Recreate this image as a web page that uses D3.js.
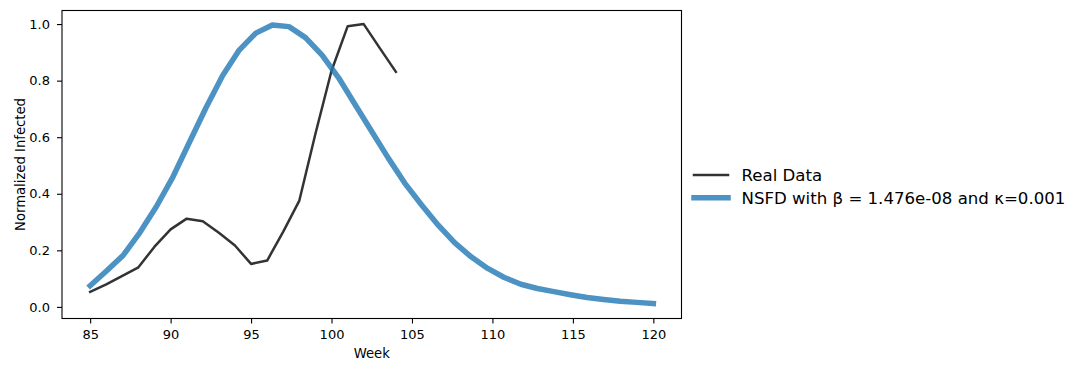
<!DOCTYPE html>
<html><head><meta charset="utf-8">
<script src="https://cdn.jsdelivr.net/npm/d3@7"></script>
<style>
html,body{margin:0;padding:0;background:#fff;}
svg{display:block;font-family:"DejaVu Sans",sans-serif;}
</style></head>
<body><svg id="c" width="1082" height="371"></svg>
<script>
// Real data (weekly)
const realWeeks = [85,86,87,88,89,90,91,92,93,94,95,96,97,98,99,100,101,102,103,104];
const realValues = [0.053,0.08,0.11,0.14,0.213,0.274,0.312,0.303,0.262,0.217,0.152,0.164,0.266,0.376,0.612,0.835,0.992,1.0,0.915,0.831];
// NSFD model curve
const modelWeeks = [85,86.0294,87.0588,88.0882,89.1176,90.1471,91.1765,92.2059,93.2353,94.2647,95.2941,96.3235,97.3529,98.3824,99.4118,100.4412,101.4706,102.5,103.5294,104.5588,105.5882,106.6176,107.6471,108.6765,109.7059,110.7353,111.7647,112.7941,113.8235,114.8529,115.8824,116.9118,117.9412,118.9706,120];
const modelValues = [0.075,0.128,0.183,0.263,0.355,0.46,0.583,0.705,0.818,0.908,0.968,0.997,0.991,0.952,0.89,0.81,0.715,0.62,0.526,0.437,0.361,0.29,0.227,0.177,0.136,0.104,0.08,0.065,0.054,0.043,0.033,0.026,0.02,0.016,0.012];
const xTicks = [85,90,95,100,105,110,115,120];
const yTicks = [0.0,0.2,0.4,0.6,0.8,1.0];
const seriesLabels = ["Real Data","NSFD with β = 1.476e-08 and κ=0.001"];
const xLabel = "Week", yLabel = "Normalized Infected";

const svg = d3.select("#c");
const L = 62, R = 681.5, T = 10.5, B = 318.5;
const x = d3.scaleLinear().domain([83.25,121.75]).range([L,R]);
const y = d3.scaleLinear().domain([-0.041,1.048]).range([B,T]);

const line = d3.line().x(d=>x(d[0])).y(d=>y(d[1]));

const g = svg.append("g");
g.append("path").datum(realWeeks.map((w,i)=>[w,realValues[i]]))
  .attr("d",line).attr("fill","none").attr("stroke","#000").attr("stroke-opacity",0.8)
  .attr("stroke-width",2.5).attr("stroke-linejoin","round").attr("stroke-linecap","square");
g.append("path").datum(modelWeeks.map((w,i)=>[w,modelValues[i]]))
  .attr("d",line).attr("fill","none").attr("stroke","#1f77b4").attr("stroke-opacity",0.8)
  .attr("stroke-width",5.5).attr("stroke-linejoin","round").attr("stroke-linecap","square");

// axes
const xa = svg.append("g").attr("transform",`translate(0,${B})`)
  .call(d3.axisBottom(x).tickValues(xTicks).tickFormat(d3.format("d")).tickSize(5).tickPadding(6));
const ya = svg.append("g").attr("transform",`translate(${L},0)`)
  .call(d3.axisLeft(y).tickValues(yTicks).tickFormat(d3.format(".1f")).tickSize(5).tickPadding(7));
[xa,ya].forEach(a=>{
  a.select(".domain").remove();
  a.selectAll("text").attr("font-family","DejaVu Sans").attr("font-size",13).attr("fill","#000");
  a.selectAll("line").attr("stroke","#000").attr("stroke-width",1.1);
});
svg.append("rect").attr("x",L).attr("y",T).attr("width",R-L).attr("height",B-T)
  .attr("fill","none").attr("stroke","#000").attr("stroke-width",1.1);

svg.append("text").attr("x",(L+R)/2).attr("y",358).attr("text-anchor","middle")
  .attr("font-size",13.2).attr("fill","#000").text(xLabel);
svg.append("text").attr("transform",`translate(25,${(T+B)/2}) rotate(-90)`).attr("text-anchor","middle")
  .attr("font-size",13.2).attr("fill","#000").text(yLabel);

// legend
const leg = svg.append("g");
const legY = [175,197.7];
const styles = [{c:"#000",w:2.5},{c:"#1f77b4",w:5.5}];
seriesLabels.forEach((s,i)=>{
  leg.append("line").attr("x1",694).attr("x2",728).attr("y1",legY[i]).attr("y2",legY[i])
    .attr("stroke",styles[i].c).attr("stroke-opacity",0.8).attr("stroke-width",styles[i].w)
    .attr("stroke-linecap","square");
  leg.append("text").attr("x",741.5).attr("y",[180.5,203.5][i]).attr("font-size",16.6).attr("fill","#000").text(s);
});
</script></body></html>
